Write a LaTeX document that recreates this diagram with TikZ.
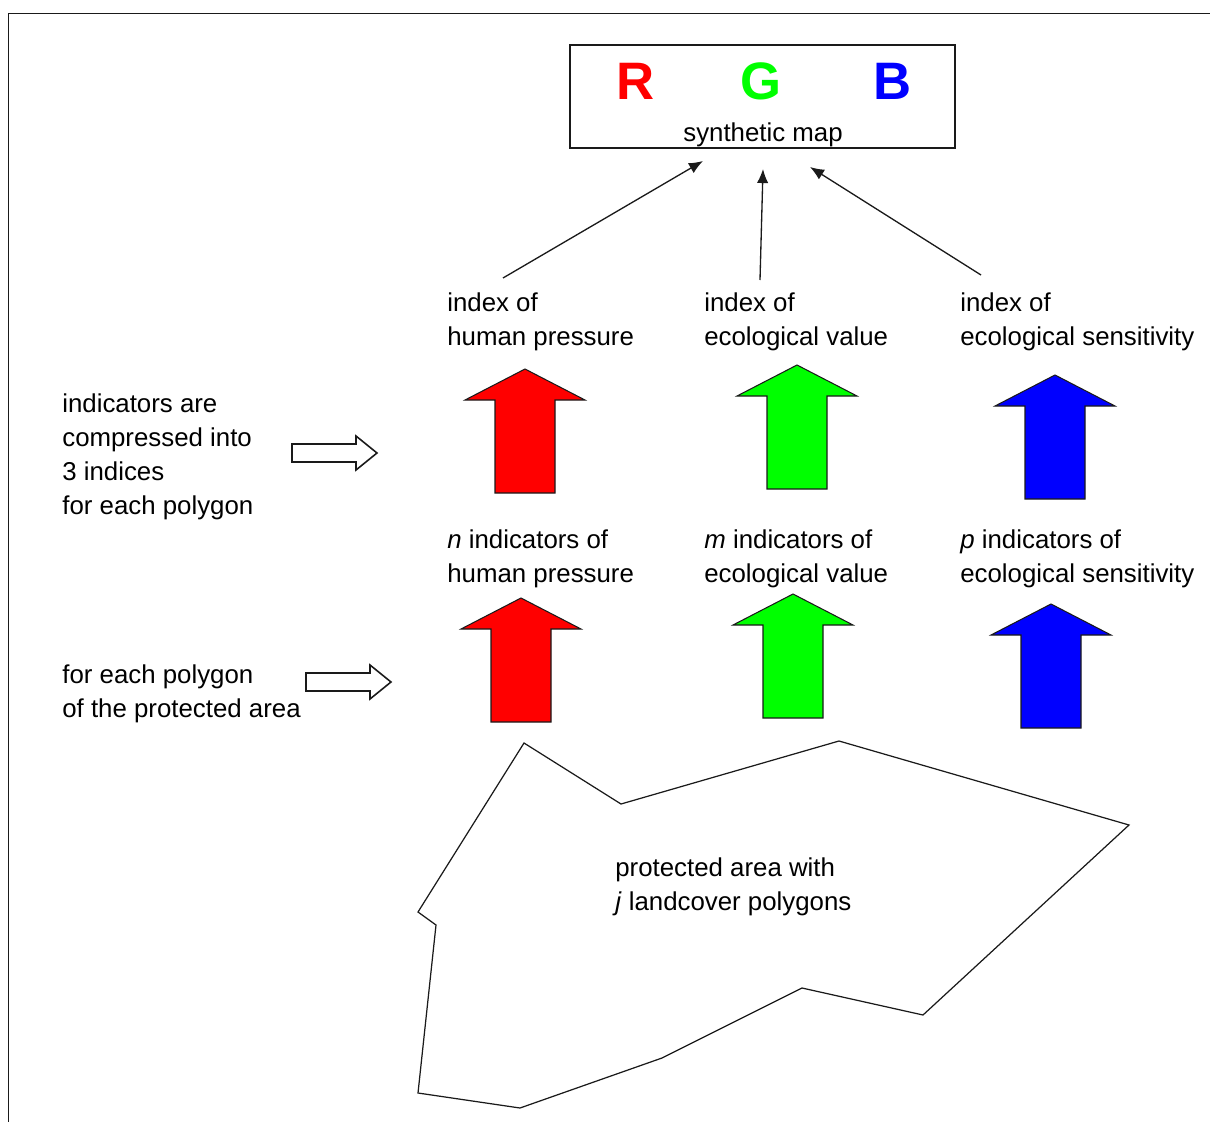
\documentclass[tikz,border=0pt]{standalone}
\usepackage{fontspec}
\setmainfont{Liberation Sans}
\usetikzlibrary{arrows.meta,positioning}
\usepackage{xcolor}
\definecolor{pressure}{HTML}{FF0000}
\definecolor{value}{HTML}{00FF00}
\definecolor{sensitivity}{HTML}{0000FF}
\definecolor{outline}{HTML}{1A1A1A}
\tikzset{
  txt/.style={align=left,anchor=west,inner sep=0pt,font=\fontsize{14.7}{19.35}\selectfont},
  mapbox/.style={draw=outline,line width=0.85pt,minimum width=7.7cm,minimum height=2.06cm,inner sep=0pt},
  letter/.style={inner sep=0pt,font=\fontsize{30}{30}\selectfont\bfseries},
  link/.style={-{Latex[length=8pt,width=6.5pt]},draw=outline,line width=0.75pt},
  hollow/.style={draw=outline,fill=white,line width=0.9pt},
  block/.style={draw=outline,line width=0.6pt},
  area/.style={draw=outline,line width=0.7pt},
  frame/.style={draw=outline,line width=0.85pt}
}
\begin{document}
\begin{tikzpicture}[x=0.02cm,y=-0.02cm]
      \useasboundingbox (0,0) rectangle (1210,1122);
      \draw[frame] (8.5,1122) -- (8.5,13.5) -- (1210,13.5);
      \node[mapbox] (map) at (762.5,96.5) {};
      \node[letter,text=pressure] (r) at (636,81) {R};
      \node[letter,text=value] (g) at (761,81) {G};
      \node[letter,text=sensitivity] (b) at (893,81) {B};
      \node[txt,anchor=center] (synth) at (763,135) {synthetic map};
      \node[txt] (ihp) at (447,321.5) {index of\\human pressure};
      \node[txt] (iev) at (704,321.5) {index of\\ecological value};
      \node[txt] (ies) at (960,321.5) {index of\\ecological sensitivity};
      \coordinate (hpfrom) at (503,278);
      \coordinate (hpto) at (703,161);
      \coordinate (evfrom) at (760,280);
      \coordinate (evto) at (763,169);
      \coordinate (esfrom) at (981,275);
      \coordinate (esto) at (810,167);
      \draw[link] (hpfrom) -- (hpto);
      \draw[link] (evfrom) -- (evto);
      \draw[link] (esfrom) -- (esto);
      \foreach \tx/\ty/\col in {525/369/pressure,797/365/value,1055/375/sensitivity,
          521/598/pressure,793/594/value,1051/604/sensitivity}
        \filldraw[block,fill=\col] (\tx,\ty) -- ++(60,31) -- ++(-30,0) -- ++(0,93)
          -- ++(-60,0) -- ++(0,-93) -- ++(-30,0) -- cycle;
      \node[txt] (nhp) at (447,559) {\textit{n} indicators of\\human pressure};
      \node[txt] (mev) at (704,559) {\textit{m} indicators of\\ecological value};
      \node[txt] (pes) at (960,559) {\textit{p} indicators of\\ecological sensitivity};
      \node[txt] (compress) at (62,457) {indicators are\\compressed into\\3 indices\\for each polygon};
      \node[txt] (perpoly) at (62,694) {for each polygon\\of the protected area};
      \draw[hollow] (292,444) -- (356,444) -- (356,436) -- (377,453) -- (356,470)
        -- (356,462) -- (292,462) -- cycle;
      \draw[hollow] (306,673) -- (370,673) -- (370,665) -- (391,682) -- (370,699)
        -- (370,691) -- (306,691) -- cycle;
      \draw[area] (524,743) -- (621,804) -- (839,741) -- (1129,825) -- (923,1015)
        -- (802,988) -- (662,1058) -- (520,1108) -- (418,1093) -- (436,925)
        -- (418,912) -- cycle;
      \node[txt] (parea) at (615,887) {protected area with\\\textit{j} landcover polygons};
    \end{tikzpicture}
\end{document}
